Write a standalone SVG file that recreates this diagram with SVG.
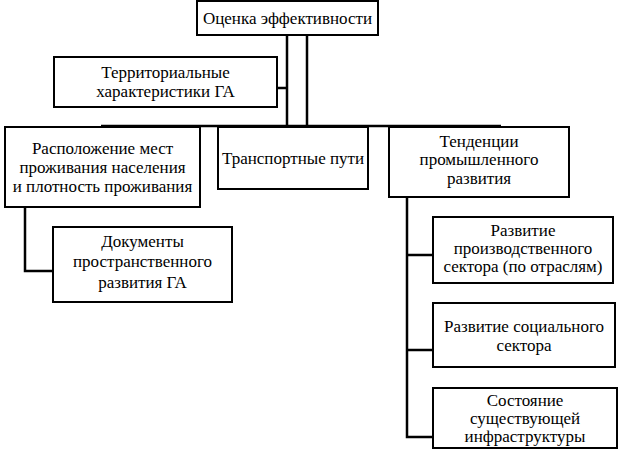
<svg xmlns="http://www.w3.org/2000/svg" width="620" height="455" viewBox="0 0 620 455">
<style>
.box{fill:#fff;stroke:#000;stroke-width:2}
.c{fill:none;stroke:#000;stroke-width:2.5}
text{font-family:'Liberation Serif',serif;font-size:17px;fill:#000;text-anchor:middle}
</style>
<rect width="620" height="455" fill="#fff"/>
<g id="connectors">
<path class="c" d="M287,35V126M307,35V126M277,88H287M101,126H501"/>
<path class="c" d="M25,207V271H53"/>
<path class="c" d="M407,197V437H433M407,255H433M407,350H433"/>
</g>
<g id="n-top"><rect class="box" x="197" y="1" width="181" height="34"/><text x="287.5" y="24">Оценка эффективности</text></g>
<g id="n-terr"><rect class="box" x="54" y="57" width="223" height="50"/><text x="165.5" y="78">Территориальные</text><text x="165.5" y="97">характеристики ГА</text></g>
<g id="n-rasp"><rect class="box" x="5" y="127" width="195" height="80"/><text x="102.5" y="154">Расположение мест</text><text x="102.5" y="173">проживания населения</text><text x="102.5" y="192">и плотность проживания</text></g>
<g id="n-trans"><rect class="box" x="218" y="127" width="150" height="62"/><text x="293" y="164">Транспортные пути</text></g>
<g id="n-tend"><rect class="box" x="389" y="127" width="180" height="70"/><text x="479" y="147">Тенденции</text><text x="479" y="165">промышленного</text><text x="479" y="184">развития</text></g>
<g id="n-doc"><rect class="box" x="53" y="227" width="179" height="75"/><text x="142.5" y="247">Документы</text><text x="142.5" y="267">пространственного</text><text x="142.5" y="288">развития ГА</text></g>
<g id="n-proizv"><rect class="box" x="433" y="217" width="180" height="66"/><text x="523" y="236">Развитие</text><text x="523" y="254">производственного</text><text x="523" y="272">сектора (по отраслям)</text></g>
<g id="n-soc"><rect class="box" x="433" y="303" width="182" height="64"/><text x="524" y="332">Развитие социального</text><text x="524" y="351">сектора</text></g>
<g id="n-infra"><rect class="box" x="433" y="388" width="184" height="60"/><text x="525" y="406">Состояние</text><text x="525" y="424">существующей</text><text x="525" y="442">инфраструктуры</text></g>
</svg>
